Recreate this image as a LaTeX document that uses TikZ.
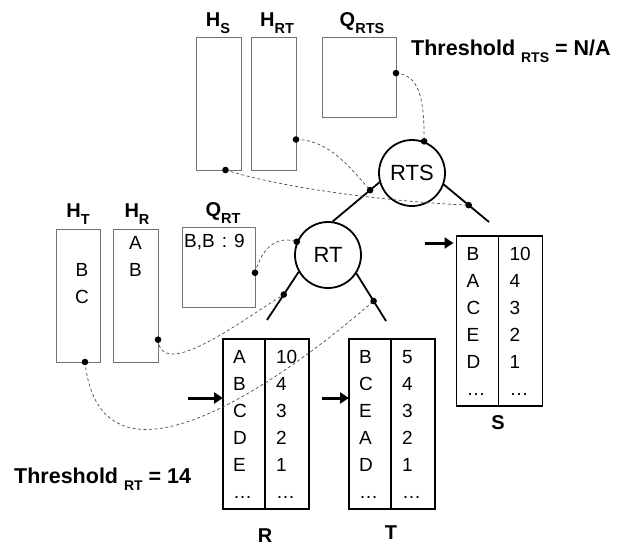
\documentclass[tikz,border=0pt]{standalone}
\usepackage{fontspec}
\setmainfont{Liberation Sans}
\usetikzlibrary{positioning,arrows.meta}

\newcommand\lowsub[2][14.5]{\raisebox{-0.32em}{\fontsize{#1}{#1}\selectfont #2}}

\tikzset{
  hashbox/.style={draw=black!55, line width=0.8pt, inner sep=0pt, outer sep=0pt},
  tabcol/.style={draw, line width=1.4pt, minimum height=170, inner xsep=10pt,
    text width=22pt, align=left, outer sep=0pt, font=\fontsize{19}{27}\selectfont},
  opnode/.style={circle, draw, line width=1.8pt, minimum size=66, inner sep=0pt,
    font=\fontsize{22}{22}\selectfont},
  branch/.style={line width=1.8pt},
  probe/.style={draw=black!70, line width=0.7pt, dash pattern=on 3pt off 2.5pt},
  feed/.style={line width=3pt, -{Triangle[length=9pt,width=11pt]}},
  title/.style={font=\fontsize{20}{20}\selectfont\bfseries},
  thresh/.style={font=\fontsize{21.5}{21.5}\selectfont\bfseries, inner sep=0pt},
  entry/.style={font=\fontsize{19}{27}\selectfont, align=center, inner sep=0pt}
}

\begin{document}
\begin{tikzpicture}[x=1pt, y=-1pt]
\useasboundingbox (0,0) rectangle (617,546);

% hash tables and queues
\node[hashbox, minimum width=45, minimum height=133] (hs) at (218.5,103.5) {};
\node[hashbox, minimum width=45, minimum height=133] (hrt) at (273.5,103.5) {};
\node[hashbox, minimum width=74, minimum height=80] (qrts) at (359,77) {};
\node[hashbox, minimum width=44, minimum height=133] (ht) at (78,295.5) {};
\node[hashbox, minimum width=45, minimum height=133] (hr) at (135.5,295.5) {};
\node[hashbox, minimum width=73, minimum height=80] (qrt) at (218.5,267) {};

\node[title] (lHs) at (218,23) {H\lowsub{S}};
\node[title] (lHrt) at (277,23) {H\lowsub{RT}};
\node[title] (lQrts) at (362,23) {Q\lowsub{RTS}};
\node[title] (lHt) at (78,214) {H\lowsub{T}};
\node[title] (lHr) at (137,214) {H\lowsub{R}};
\node[title] (lQrt) at (223,213) {Q\lowsub{RT}};

\node[entry] (htKeys) at (82,283.5) {B\\C};
\node[entry] (hrKeys) at (135.5,256.5) {A\\B};
\node[entry, anchor=west] (qrtKeys) at (184,242) {B,B\hspace{7pt}:\hspace{7pt}9};

\node[thresh, anchor=west] (thRts) at (411,51) {Threshold \lowsub[14]{RTS} = N/A};
\node[thresh, anchor=west] (thRt) at (14,479) {Threshold \lowsub[14]{RT} = 14};

% join operators
\node[opnode] (rts) at (412,173) {RTS};
\node[opnode] (rt) at (328,255) {RT};

\coordinate (rtsLeaf) at (489,222);
\coordinate (rtLeafL) at (267,320);
\coordinate (rtLeafR) at (386,321);
\draw[branch] (rts.196) -- coordinate[pos=.2] (dRtsL) (rt.82);
\draw[branch] (rts.340) -- coordinate[pos=.55] (dRtsR) (rtsLeaf);
\draw[branch] (rt.210) -- coordinate[pos=.47] (dRtL) (rtLeafL);
\draw[branch] (rt.327) -- coordinate[pos=.58] (dRtR) (rtLeafR);

% sorted inputs
\node[tabcol] (rL) at (244,424) {A\\B\\C\\D\\E\\\dots};
\node[tabcol, right=0pt of rL, inner xsep=11pt] (rR) {10\\4\\3\\2\\1\\\dots};
\node[tabcol] (tL) at (370,424) {B\\C\\E\\A\\D\\\dots};
\node[tabcol, right=0pt of tL, inner xsep=11pt] (tR) {5\\4\\3\\2\\1\\\dots};
\node[tabcol] (sL) at (477.5,321) {B\\A\\C\\E\\D\\\dots};
\node[tabcol, right=0pt of sL, inner xsep=11pt] (sR) {10\\4\\3\\2\\1\\\dots};

\node[title] (lR) at (265,536) {R};
\node[title] (lT) at (391,533) {T};
\node[title] (lS) at (498,423) {S};

\coordinate (feedR) at (188,398);
\coordinate (feedT) at (322,398);
\coordinate (feedS) at (425,243);
\draw[feed] (feedR) -- (feedR -| rL.west);
\draw[feed] (feedT) -- (feedT -| tL.west);
\draw[feed, shorten >=3pt] (feedS) -- (feedS -| sL.west);

% probe links
\coordinate (dQrts) at (qrts.6);
\coordinate (dHrt) at (hrt.-58);
\coordinate (dHs) at (hs.-84);
\coordinate (dQrt) at (qrt.-9);
\coordinate (dHr) at (hr.-63);
\coordinate (dHt) at (ht.-84);
\coordinate (dRtsTop) at (rts.69);
\coordinate (dRt) at (rt.157);

\draw[probe] (dQrts) .. controls +(24,2) and +(0,-42) .. (dRtsTop);
\draw[probe] (dHrt) .. controls +(30,0) and +(-24,-28) .. (dRtsL);
\draw[probe] (dHs) .. controls +(64,20) and +(-70,-3) .. (dRtsR);
\draw[probe] (dQrt) .. controls +(8,-28) and +(-18,-6) .. (dRt);
\draw[probe] (dHr) .. controls +(4,42) and +(-42,26) .. (dRtL);
\draw[probe] (dHt) .. controls +(15,138) and +(-113,98) .. (dRtR);

\foreach \d in {dQrts,dHrt,dHs,dQrt,dHr,dHt,dRtsTop,dRt,dRtsL,dRtsR,dRtL,dRtR}
  \fill (\d) circle[radius=3.3];
\end{tikzpicture}
\end{document}
